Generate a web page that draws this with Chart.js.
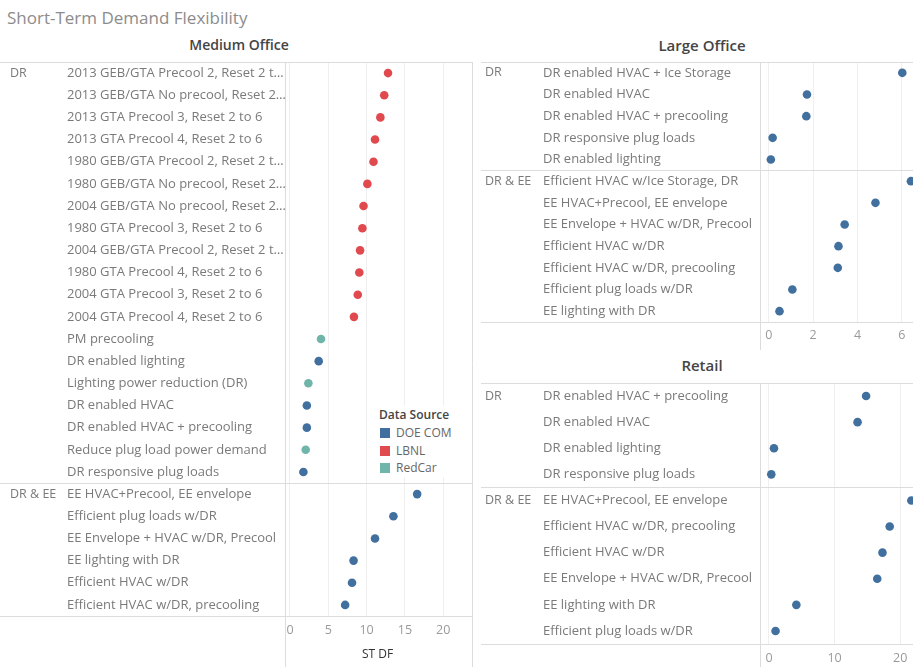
<!DOCTYPE html>
<html>
<head>
<meta charset="utf-8">
<script src="https://cdn.jsdelivr.net/npm/chart.js@4.4.1/dist/chart.umd.min.js"></script>
<style>
html,body{margin:0;padding:0;background:#fff;}
body{width:913px;height:667px;overflow:hidden;position:relative;font-family:"Open Sans",sans-serif;}
.t{position:absolute;white-space:nowrap;}
#mainTitle{left:7px;top:6px;font-size:17px;color:#8c8c8c;}
.ptitle{font-size:14px;font-weight:600;color:#444;transform:translateX(-50%);}
#legend{left:377px;top:406px;font-size:12px;color:#666;background:#fff;padding:0 2px;z-index:5;}
#legend .hd{font-weight:600;color:#444;margin-bottom:1px;}
#legend .it{height:17.6px;line-height:17.6px;}
#legend .sw{display:inline-block;width:10px;height:10px;margin:0 6px 0 1px;vertical-align:-1px;}
</style>
</head>
<body>
<div id="mainTitle" class="t">Short-Term Demand Flexibility</div>
<div class="t ptitle" style="left:239px;top:35px;">Medium Office</div>
<div class="t ptitle" style="left:702px;top:35px;font-size:15px;">Large Office</div>
<div class="t ptitle" style="left:702px;top:355px;font-size:15px;">Retail</div>
<div id="legend" class="t"></div>
<script>
// ---------------- DATA ----------------
const sources = ['DOE COM', 'LBNL', 'RedCar'];
const sourceColors = ['#41709f', '#e04a4e', '#6fb5aa'];

const medCategories = [
  '2013 GEB/GTA Precool 2, Reset 2 t\u2026',
  '2013 GEB/GTA No precool, Reset 2\u2026',
  '2013 GTA Precool 3, Reset 2 to 6',
  '2013 GTA Precool 4, Reset 2 to 6',
  '1980 GEB/GTA Precool 2, Reset 2 t\u2026',
  '1980 GEB/GTA No precool, Reset 2\u2026',
  '2004 GEB/GTA No precool, Reset 2\u2026',
  '1980 GTA Precool 3, Reset 2 to 6',
  '2004 GEB/GTA Precool 2, Reset 2 t\u2026',
  '1980 GTA Precool 4, Reset 2 to 6',
  '2004 GTA Precool 3, Reset 2 to 6',
  '2004 GTA Precool 4, Reset 2 to 6',
  'PM precooling',
  'DR enabled lighting',
  'Lighting power reduction (DR)',
  'DR enabled HVAC',
  'DR enabled HVAC + precooling',
  'Reduce plug load power demand',
  'DR responsive plug loads',
  'EE HVAC+Precool, EE envelope',
  'Efficient plug loads w/DR',
  'EE Envelope + HVAC w/DR, Precool',
  'EE lighting with DR',
  'Efficient HVAC w/DR',
  'Efficient HVAC w/DR, precooling'
];
const medGroups = [
  'DR','DR','DR','DR','DR','DR','DR','DR','DR','DR','DR','DR','DR','DR','DR','DR','DR','DR','DR',
  'DR & EE','DR & EE','DR & EE','DR & EE','DR & EE','DR & EE'
];
const medValues = [
  12.8, 12.3, 11.8, 11.1, 10.9, 10.1, 9.6, 9.45, 9.15, 9.05, 8.85, 8.35,
  4.05, 3.75, 2.4, 2.2, 2.2, 2.05, 1.75,
  16.6, 13.5, 11.1, 8.3, 8.1, 7.2
];
const medSources = [
  'LBNL','LBNL','LBNL','LBNL','LBNL','LBNL','LBNL','LBNL','LBNL','LBNL','LBNL','LBNL',
  'RedCar','DOE COM','RedCar','DOE COM','DOE COM','RedCar','DOE COM',
  'DOE COM','DOE COM','DOE COM','DOE COM','DOE COM','DOE COM'
];
const medTicks = [0, 5, 10, 15, 20];

const largeCategories = [
  'DR enabled HVAC + Ice Storage',
  'DR enabled HVAC',
  'DR enabled HVAC + precooling',
  'DR responsive plug loads',
  'DR enabled lighting',
  'Efficient HVAC w/Ice Storage, DR',
  'EE HVAC+Precool, EE envelope',
  'EE Envelope + HVAC w/DR, Precool',
  'Efficient HVAC w/DR',
  'Efficient HVAC w/DR, precooling',
  'Efficient plug loads w/DR',
  'EE lighting with DR'
];
const largeGroups = ['DR','DR','DR','DR','DR','DR & EE','DR & EE','DR & EE','DR & EE','DR & EE','DR & EE','DR & EE'];
const largeValues = [6.02, 1.72, 1.69, 0.17, 0.09, 6.41, 4.81, 3.42, 3.14, 3.11, 1.06, 0.48];
const largeSources = ['DOE COM','DOE COM','DOE COM','DOE COM','DOE COM','DOE COM','DOE COM','DOE COM','DOE COM','DOE COM','DOE COM','DOE COM'];
const largeTicks = [0, 2, 4, 6];

const retailCategories = [
  'DR enabled HVAC + precooling',
  'DR enabled HVAC',
  'DR enabled lighting',
  'DR responsive plug loads',
  'EE HVAC+Precool, EE envelope',
  'Efficient HVAC w/DR, precooling',
  'Efficient HVAC w/DR',
  'EE Envelope + HVAC w/DR, Precool',
  'EE lighting with DR',
  'Efficient plug loads w/DR'
];
const retailGroups = ['DR','DR','DR','DR','DR & EE','DR & EE','DR & EE','DR & EE','DR & EE','DR & EE'];
const retailValues = [14.8, 13.5, 0.76, 0.35, 21.7, 18.4, 17.3, 16.5, 4.17, 1.0];
const retailSources = ['DOE COM','DOE COM','DOE COM','DOE COM','DOE COM','DOE COM','DOE COM','DOE COM','DOE COM','DOE COM'];
const retailTicks = [0, 10, 20];

// ---------------- RENDERING ----------------
const FONT = '"Open Sans", sans-serif';
const LINE = '#dcdcdc';
const LABEL = '#7a7a7a';

// legend
const legendEl = document.getElementById('legend');
legendEl.innerHTML = '<div class="hd">Data Source</div>' + sources.map((s, i) =>
  '<div class="it"><span class="sw" style="background:' + sourceColors[i] + '"></span>' + s + '</div>').join('');

const decor = {
  id: 'decor',
  beforeDatasetsDraw(chart, args, o) {
    const ctx = chart.ctx, ca = chart.chartArea, ys = chart.scales.y;
    const W = chart.width, H = chart.height;
    ctx.save();
    ctx.strokeStyle = LINE;
    ctx.lineWidth = 1;
    const hline = (y) => { ctx.beginPath(); ctx.moveTo(o.lineLeft, Math.round(y) + 0.5); ctx.lineTo(o.lineRight === undefined ? W : o.lineRight, Math.round(y) + 0.5); ctx.stroke(); };
    const vline = (x) => { ctx.beginPath(); ctx.moveTo(Math.round(x) + 0.5, ca.top); ctx.lineTo(Math.round(x) + 0.5, H); ctx.stroke(); };
    hline(ca.top);
    hline(ca.bottom);
    const g = o.groups;
    for (let i = 1; i < g.length; i++) {
      if (g[i] !== g[i - 1]) {
        hline((ys.getPixelForValue(i - 1) + ys.getPixelForValue(i)) / 2);
      }
    }
    vline(ca.left);
    if (o.rightLine) vline(ca.right);
    // group labels
    ctx.fillStyle = LABEL;
    ctx.font = '12.5px ' + FONT;
    ctx.textBaseline = 'middle';
    ctx.textAlign = 'left';
    for (let i = 0; i < g.length; i++) {
      if (i === 0 || g[i] !== g[i - 1]) ctx.fillText(g[i], o.groupX, ys.getPixelForValue(i));
    }
    if (o.axisTitle) {
      ctx.fillStyle = '#333';
      ctx.font = '12px ' + FONT;
      ctx.fillText(o.axisTitle, o.axisTitleX, o.axisTitleY);
    }
    ctx.restore();
  }
};

function makePanel(o) {
  const canvas = document.createElement('canvas');
  canvas.width = o.width; canvas.height = o.height;
  canvas.style.cssText = 'position:absolute;left:' + o.left + 'px;top:' + o.top + 'px;width:' + o.width + 'px;height:' + o.height + 'px;';
  document.body.appendChild(canvas);
  const datasets = sources.map((s, si) => ({
    label: s,
    data: o.values.map((v, i) => (o.sources[i] === s ? v : null)),
    backgroundColor: sourceColors[si],
    borderColor: sourceColors[si],
    pointBackgroundColor: sourceColors[si],
    pointBorderWidth: 0,
    pointRadius: 4.3,
    pointHoverRadius: 4.3,
    showLine: false
  })).filter(d => d.data.some(v => v !== null));
  return new Chart(canvas, {
    type: 'line',
    data: { labels: o.categories, datasets },
    options: {
      indexAxis: 'y',
      responsive: false,
      animation: false,
      events: [],
      layout: { padding: { left: o.padLeft, top: o.padTop, right: o.padRight, bottom: 0 } },
      plugins: {
        legend: { display: false },
        tooltip: { enabled: false },
        decor: o.decor
      },
      scales: {
        x: {
          type: 'linear', position: 'bottom', min: o.min, max: o.max,
          afterBuildTicks: (s) => { s.ticks = o.ticks.map(v => ({ value: v })); },
          afterFit: (s) => { s.height = o.xHeight; },
          grid: { color: '#efefef', drawTicks: false },
          border: { display: false },
          ticks: { color: '#9a9a9a', font: { family: FONT, size: 12.5 }, padding: o.tickPad, maxRotation: 0 }
        },
        y: {
          type: 'category', offset: true,
          afterFit: (s) => { s.width = o.yWidth; },
          grid: { display: false, drawTicks: false },
          border: { display: false },
          ticks: { crossAlign: 'far', color: LABEL, font: { family: FONT, size: 13 }, autoSkip: false, padding: 0 }
        }
      }
    },
    plugins: [decor]
  });
}

makePanel({
  left: 0, top: 50, width: 480, height: 617,
  categories: medCategories, values: medValues, sources: medSources, ticks: medTicks,
  min: -0.65, max: 23.76, padLeft: 67, padTop: 12, padRight: 8, yWidth: 218, xHeight: 51, tickPad: 7,
  decor: { groups: medGroups, lineLeft: 0, lineRight: 472, groupX: 10, rightLine: true,
           axisTitle: 'ST DF', axisTitleX: 362, axisTitleY: 605 }
});

makePanel({
  left: 478, top: 50, width: 460, height: 300,
  categories: largeCategories, values: largeValues, sources: largeSources, ticks: largeTicks,
  min: -0.4, max: 7.0, padLeft: 65, padTop: 12, padRight: 14, yWidth: 217, xHeight: 28, tickPad: 6,
  decor: { groups: largeGroups, lineLeft: 3, groupX: 7, rightLine: false }
});

makePanel({
  left: 478, top: 340, width: 470, height: 327,
  categories: retailCategories, values: retailValues, sources: retailSources, ticks: retailTicks,
  min: -1.37, max: 25, padLeft: 65, padTop: 43, padRight: 15, yWidth: 217, xHeight: 23, tickPad: 7,
  decor: { groups: retailGroups, lineLeft: 3, groupX: 7, rightLine: false }
});
</script>
</body>
</html>
